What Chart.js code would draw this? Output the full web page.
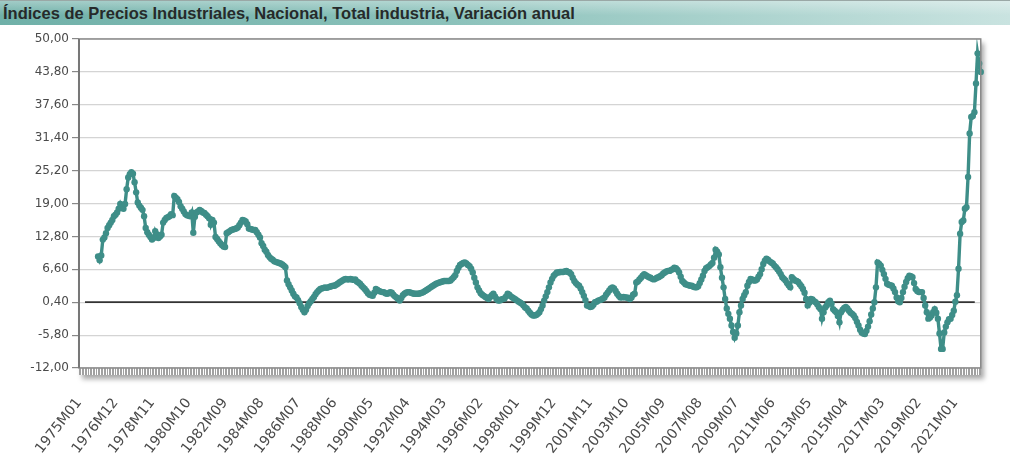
<!DOCTYPE html>
<html>
<head>
<meta charset="utf-8">
<script src="https://cdn.jsdelivr.net/npm/chart.js@4.4.1/dist/chart.umd.min.js"></script>
<style>
    html, body { margin: 0; padding: 0; background: #fff; }
    #wrap { width: 1014px; height: 457px; position: relative; overflow: hidden; }
    #title {
        height: 25px;
        border-top: 1px solid #9aa8a6;
        background: linear-gradient(to bottom, rgba(255,255,255,0.35), rgba(255,255,255,0) 60%),
                    linear-gradient(to right, #6fb0a8 0%, #8cc2bb 45%, #c9e3e0 100%);
        font: bold 16.5px "Liberation Sans", Arial, sans-serif;
        color: #262a2a;
        line-height: 25px;
        padding-left: 3px;
        box-sizing: border-box;
        width: 1010px;
        white-space: nowrap;
    }
    #chart { position: absolute; left: 0; top: 26px; width: 1014px; height: 431px; }
</style>
</head>
<body>
<div id="wrap">
    <div id="title">Índices de Precios Industriales, Nacional, Total industria, Variación anual</div>
    <div id="chart"><canvas id="c"></canvas></div>
</div>
<script>
// Monthly categories 1975M01 .. 2022M05
const firstYear = 1975;
const lastYear = 2022;
const lastMonth = 5;
const labels = [];
for (let y = firstYear; y <= lastYear; y++) {
    for (let m = 1; m <= 12; m++) {
        if (y === lastYear && m > lastMonth) break;
        labels.push(y + 'M' + String(m).padStart(2, '0'));
    }
}

// Y axis ticks
const yTicks = [-12, -5.8, 0.4, 6.6, 12.8, 19, 25.2, 31.4, 37.6, 43.8, 50];
const labelEvery = 23;

// Annual variation (%). 1975 has no annual rate.
const v1975 = [null, null, null, null, null, null, null, null, null, null, null, null];
const v1976_1980 = [
    9.0, 8.3, 9.2, 12.2, 12.6, 13.4, 14.4, 14.9, 15.4, 15.9, 16.6, 16.9,
    17.3, 18.0, 18.9, 18.2, 18.0, 18.9, 21.7, 23.9, 24.5, 24.9, 24.6, 23.0,
    21.1, 19.2, 18.6, 18.2, 17.8, 16.6, 14.4, 13.6, 13.1, 12.7, 12.2, 12.5,
    13.8, 13.2, 12.5, 12.8, 13.1, 15.4, 15.9, 16.3, 16.4, 16.6, 17.0, 16.8,
    20.4, 20.1, 19.8, 19.3, 18.5, 18.0, 17.5, 17.0, 16.8, 16.7, 16.6, 17.3
];
const v1981_1985 = [
    13.5, 16.5, 17.3, 17.5, 17.8, 17.6, 17.3, 17.2, 16.9, 16.6, 16.2, 15.0,
    15.9, 15.4, 12.7, 12.3, 11.9, 11.5, 11.2, 10.9, 10.8, 13.4, 13.6, 13.8,
    14.0, 14.1, 14.2, 14.3, 14.5, 14.9, 15.4, 15.9, 15.8, 15.6, 15.1, 14.3,
    14.2, 14.1, 14.0, 14.0, 13.6, 13.1, 12.6, 11.5, 11.0, 10.3, 9.9, 9.3,
    8.9, 8.6, 8.4, 8.1, 8.0, 7.9, 7.8, 7.7, 7.5, 7.3, 7.0, 4.5
];
const v1986_1990 = [
    3.8, 3.2, 2.6, 2.0, 1.5, 1.3, 0.8, 0.2, -0.5, -1.0, -1.5, -1.0,
    -0.3, 0.2, 0.6, 1.0, 1.4, 1.9, 2.3, 2.6, 2.9, 3.0, 3.1, 3.2,
    3.1, 3.2, 3.3, 3.4, 3.5, 3.5, 3.7, 3.9, 4.1, 4.3, 4.5, 4.7,
    4.8, 4.7, 4.7, 4.8, 4.7, 4.6, 4.7, 4.3, 4.1, 3.9, 3.5, 3.2,
    2.9, 2.5, 2.1, 1.8, 1.7, 1.6, 2.2, 2.9, 2.7, 2.5, 2.4, 2.3
];
const v1991_1995 = [
    2.3, 2.1, 2.0, 2.1, 2.3, 2.2, 1.8, 1.5, 1.3, 1.0, 0.7, 1.2,
    1.7, 2.0, 2.2, 2.3, 2.3, 2.2, 2.1, 2.0, 2.0, 2.0, 2.0, 2.1,
    2.2, 2.3, 2.5, 2.7, 2.9, 3.1, 3.3, 3.5, 3.7, 3.9, 4.0, 4.1,
    4.2, 4.3, 4.4, 4.4, 4.4, 4.4, 4.5, 4.8, 5.1, 5.5, 6.3, 6.9,
    7.4, 7.6, 7.8, 7.9, 7.7, 7.4, 7.2, 6.7, 6.0, 5.0, 4.1, 3.2
];
const v1996_2000 = [
    2.6, 2.1, 1.8, 1.6, 1.4, 1.2, 1.0, 1.4, 1.7, 2.0, 1.5, 1.0,
    0.7, 0.7, 0.9, 1.0, 1.1, 1.5, 2.0, 1.8, 1.5, 1.3, 1.1, 0.9,
    0.7, 0.5, 0.3, 0.1, -0.2, -0.6, -0.8, -1.2, -1.6, -1.9, -2.1, -2.1,
    -2.0, -1.8, -1.5, -0.9, -0.2, 0.7, 1.5, 2.3, 3.2, 4.1, 4.8, 5.4,
    5.7, 6.0, 6.0, 6.1, 6.1, 6.1, 6.2, 6.3, 6.1, 6.0, 5.7, 5.0
];
const v2001_2005 = [
    4.4, 4.0, 3.7, 3.5, 3.0, 2.3, 1.6, 0.8, -0.2, -0.3, -0.5, -0.4,
    -0.1, 0.4, 0.5, 0.7, 0.8, 0.9, 1.1, 1.3, 1.8, 2.2, 2.6, 3.0,
    3.2, 3.0, 2.5, 2.0, 1.6, 1.3, 1.3, 1.4, 1.3, 1.3, 1.2, 1.0,
    1.3, 1.8, 2.0, 4.1, 4.3, 4.7, 5.0, 5.4, 5.7, 5.5, 5.3, 5.1,
    5.0, 4.8, 4.7, 4.8, 5.0, 5.1, 5.3, 5.5, 5.8, 6.0, 6.2, 6.3
];
const v2006_2010 = [
    6.3, 6.5, 6.6, 6.9, 6.8, 6.5, 6.0, 5.2, 4.4, 4.1, 3.8, 3.7,
    3.6, 3.5, 3.5, 3.3, 3.2, 3.2, 3.4, 4.0, 4.7, 5.4, 6.3, 6.8,
    7.0, 7.2, 7.5, 7.8, 8.8, 10.3, 9.9, 9.4, 7.0, 5.0, 3.2, 1.0,
    -0.8, -1.8, -2.7, -4.0, -5.2, -6.3, -5.5, -4.0, -1.5, -0.2, 1.0, 1.7,
    2.3, 3.5, 4.2, 4.8, 4.7, 4.5, 4.5, 4.7, 5.2, 5.7, 6.6, 7.6
];
const v2011_2015 = [
    8.2, 8.6, 8.4, 8.1, 7.9, 7.7, 7.3, 7.0, 6.6, 6.2, 5.7, 5.1,
    4.8, 4.5, 4.0, 3.6, 3.2, 5.1, 4.8, 4.5, 4.4, 4.2, 3.8, 3.4,
    2.9, 2.2, 1.0, -0.2, 0.3, 1.0, 0.9, 0.6, 0.4, 0.0, -0.5, -0.9,
    -2.7, -1.5, -0.6, -0.2, 0.4, 0.7, 0.1, -0.9, -1.2, -1.5, -2.2, -3.4,
    -1.5, -1.0, -0.7, -0.5, -0.8, -1.2, -1.6, -1.8, -2.1, -2.6, -3.3, -4.0
];
const v2016_2020 = [
    -4.8, -5.3, -5.5, -5.6, -5.0, -4.2, -3.2, -1.9, -0.8, 0.4, 3.2, 7.9,
    7.6, 7.3, 6.5, 5.7, 4.8, 3.9, 3.7, 3.6, 3.5, 3.0, 2.3, 1.3,
    0.6, 0.4, 1.2, 2.3, 3.3, 4.2, 4.9, 5.4, 5.3, 5.1, 4.0, 2.9,
    2.5, 2.3, 2.3, 2.3, 1.2, -0.2, -1.5, -2.7, -2.5, -2.1, -1.5, -0.9,
    -1.6, -2.7, -5.5, -8.4, -8.4, -5.3, -4.2, -3.4, -2.8, -2.7, -2.0, -1.2
];
const v2021_2022 = [
    0.5, 1.7, 6.7, 13.3, 15.5, 15.8, 18.0, 18.3, 24.0, 32.2, 35.3, 35.5,
    36.2, 41.6, 47.3, 45.4, 43.8
];

const values = [].concat(v1975, v1976_1980, v1981_1985, v1986_1990, v1991_1995,
    v1996_2000, v2001_2005, v2006_2010, v2011_2015, v2016_2020, v2021_2022);

const lineColor = '#3e8e88';
const fmt = v => v.toFixed(2).replace('.', ',');

// White plot area with a soft drop shadow, framed border and the dark base line
const framePlugin = {
    id: 'frame',
    beforeDraw(chart) {
        const { ctx, chartArea: a } = chart;
        ctx.save();
        ctx.shadowColor = 'rgba(0,0,0,0.35)';
        ctx.shadowBlur = 5;
        ctx.shadowOffsetX = 3;
        ctx.shadowOffsetY = 4;
        ctx.fillStyle = '#fff';
        ctx.fillRect(a.left, a.top, a.right - a.left, a.bottom - a.top + 7);
        ctx.restore();
    },
    beforeDatasetsDraw(chart) {
        const { ctx, chartArea: a, scales } = chart;
        const y = scales.y.getPixelForValue(0.4);
        ctx.save();
        ctx.strokeStyle = '#333';
        ctx.lineWidth = 1.8;
        ctx.beginPath();
        ctx.moveTo(a.left + 6, y);
        ctx.lineTo(a.right - 6, y);
        ctx.stroke();
        ctx.restore();
    },
    afterDraw(chart) {
        const { ctx, chartArea: a } = chart;
        ctx.save();
        ctx.strokeStyle = '#8a8a8a';
        ctx.lineWidth = 1.5;
        ctx.strokeRect(a.left, a.top, a.right - a.left, a.bottom - a.top);
        ctx.strokeStyle = '#777';
        ctx.lineWidth = 2;
        ctx.beginPath();
        ctx.moveTo(a.left, a.top);
        ctx.lineTo(a.left, a.bottom);
        ctx.stroke();
        ctx.restore();
    }
};

new Chart(document.getElementById('c'), {
    type: 'line',
    data: {
        labels: labels,
        datasets: [{
            data: values,
            borderColor: lineColor,
            backgroundColor: lineColor,
            borderWidth: 3.4,
            pointRadius: 3.2,
            pointBorderWidth: 0,
            pointBackgroundColor: lineColor,
            tension: 0,
            spanGaps: false
        }]
    },
    options: {
        responsive: true,
        maintainAspectRatio: false,
        animation: false,
        layout: { padding: { top: 13, right: 33, left: 0, bottom: 0 } },
        plugins: {
            legend: { display: false },
            tooltip: { enabled: false }
        },
        scales: {
            x: {
                type: 'category',
                offset: false,
                afterFit(scale) { scale.height = 89; },
                border: { display: false },
                grid: {
                    drawOnChartArea: false,
                    drawTicks: true,
                    tickLength: 7,
                    color: '#a0a0a0',
                    lineWidth: 1
                },
                ticks: {
                    autoSkip: false,
                    maxRotation: 52,
                    minRotation: 52,
                    padding: 20,
                    color: '#4a4a4a',
                    font: { family: 'DejaVu Sans', size: 14 },
                    callback: (val, i) => (i % labelEvery === 0 ? labels[i] : '')
                }
            },
            y: {
                min: -12,
                max: 50,
                afterFit(scale) { scale.width = 79; },
                afterBuildTicks(scale) { scale.ticks = yTicks.map(v => ({ value: v })); },
                border: { display: false },
                grid: {
                    color: '#d4d4d4',
                    lineWidth: 1.2,
                    tickLength: 7,
                    tickColor: '#888'
                },
                ticks: {
                    padding: 3,
                    color: '#4a4a4a',
                    font: { family: 'DejaVu Sans', size: 12 },
                    callback: v => fmt(v)
                }
            }
        }
    },
    plugins: [framePlugin]
});
</script>
</body>
</html>
